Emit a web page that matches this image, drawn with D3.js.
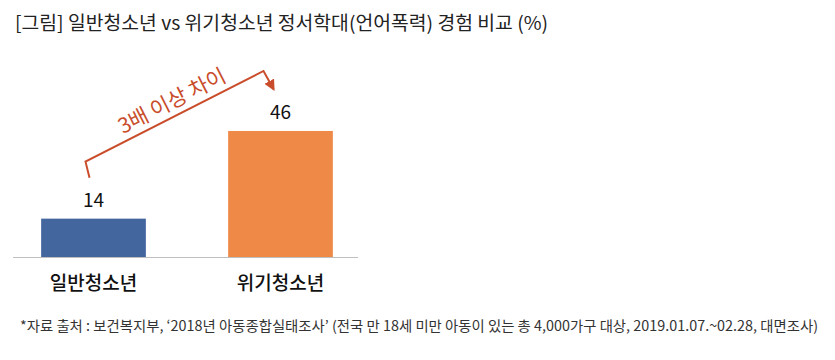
<!DOCTYPE html>
<html>
<head>
<meta charset="utf-8">
<title>정서학대 경험 비교</title>
<script src="https://d3js.org/d3.v7.min.js"></script>
<style>
  body { margin: 0; background: #fff; }
  text { font-family: "Noto Sans CJK KR", "Noto Sans", sans-serif; }
</style>
</head>
<body>
<div id="chart"></div>
<script>
// data
var categories = ["일반청소년", "위기청소년"];
var values = [14, 46];
var colors = ["#44669f", "#ef8948"];
var titleText = "[그림] 일반청소년 vs 위기청소년 정서학대(언어폭력) 경험 비교 (%)";
var noteText = "*자료 출처 : 보건복지부, ‘2018년 아동종합실태조사’ (전국 만 18세 미만 아동이 있는 총 4,000가구 대상, 2019.01.07.~02.28, 대면조사)";
var annoText = "3배 이상 차이";

var W = 835, H = 360;
var svg = d3.select("#chart").append("svg")
    .attr("width", W).attr("height", H);

// title
svg.append("text")
    .attr("x", 15).attr("y", 30)
    .attr("font-size", 19).attr("fill", "#222")
    .attr("textLength", 533).attr("lengthAdjust", "spacingAndGlyphs")
    .text(titleText);

// scales
var x = d3.scaleBand()
    .domain(categories)
    .range([0, 374])
    .paddingInner(0.44)
    .paddingOuter(0.22);

var y = d3.scaleLinear()
    .domain([0, 50])
    .range([257, 120]);

// baseline
svg.append("line")
    .attr("x1", 13).attr("x2", 358)
    .attr("y1", y(0) + 0.5).attr("y2", y(0) + 0.5)
    .attr("stroke", "#bfbfbf").attr("stroke-width", 1);

// bars
svg.selectAll(".bar")
    .data(values)
    .enter().append("rect")
    .attr("class", "bar")
    .attr("x", function(d, i) { return x(categories[i]); })
    .attr("width", x.bandwidth())
    .attr("y", function(d) { return y(d); })
    .attr("height", function(d) { return y(0) - y(d); })
    .attr("fill", function(d, i) { return colors[i]; });

// value labels
svg.selectAll(".val")
    .data(values)
    .enter().append("text")
    .attr("class", "val")
    .attr("x", function(d, i) { return x(categories[i]) + x.bandwidth() / 2; })
    .attr("y", function(d) { return y(d) - 12; })
    .attr("text-anchor", "middle")
    .attr("font-size", 19).attr("fill", "#111")
    .text(function(d) { return d; });

// category labels
svg.selectAll(".cat")
    .data(categories)
    .enter().append("text")
    .attr("class", "cat")
    .attr("x", function(d) { return x(d) + x.bandwidth() / 2; })
    .attr("y", 290)
    .attr("text-anchor", "middle")
    .attr("font-size", 19).attr("font-weight", 500).attr("fill", "#111")
    .text(function(d) { return d; });

// annotation bracket with arrow
var red = "#c94d2b";
svg.append("defs").append("marker")
    .attr("id", "arrow")
    .attr("viewBox", "0 0 10 10")
    .attr("refX", 8).attr("refY", 5)
    .attr("markerWidth", 5.5).attr("markerHeight", 5.5)
    .attr("markerUnits", "strokeWidth")
    .attr("orient", "auto")
  .append("path")
    .attr("d", "M0,0L10,5L0,10Z")
    .attr("fill", red);

var cx0 = x(categories[0]) + x.bandwidth() / 2;
var cx1 = x(categories[1]) + x.bandwidth() / 2;
var p0 = [cx0 - 4, y(values[0]) - 41];
var p1 = [cx0 - 8, y(values[0]) - 57];
var p2 = [cx1 - 17, y(values[1]) - 60];
var p3 = [cx1 - 7, y(values[1]) - 42];

svg.append("path")
    .attr("d", d3.line()([p0, p1, p2, p3]))
    .attr("fill", "none")
    .attr("stroke", red).attr("stroke-width", 2)
    .attr("marker-end", "url(#arrow)");

var ang = Math.atan2(p2[1] - p1[1], p2[0] - p1[0]) * 180 / Math.PI;
svg.append("text")
    .attr("transform", "translate(172,101) rotate(" + ang + ")")
    .attr("text-anchor", "middle")
    .attr("dy", "0.35em")
    .attr("font-size", 21).attr("fill", red)
    .text(annoText);

// footnote
svg.append("text")
    .attr("x", 20).attr("y", 331)
    .attr("font-size", 14).attr("fill", "#333")
    .attr("textLength", 798).attr("lengthAdjust", "spacingAndGlyphs")
    .text(noteText);
</script>
</body>
</html>
